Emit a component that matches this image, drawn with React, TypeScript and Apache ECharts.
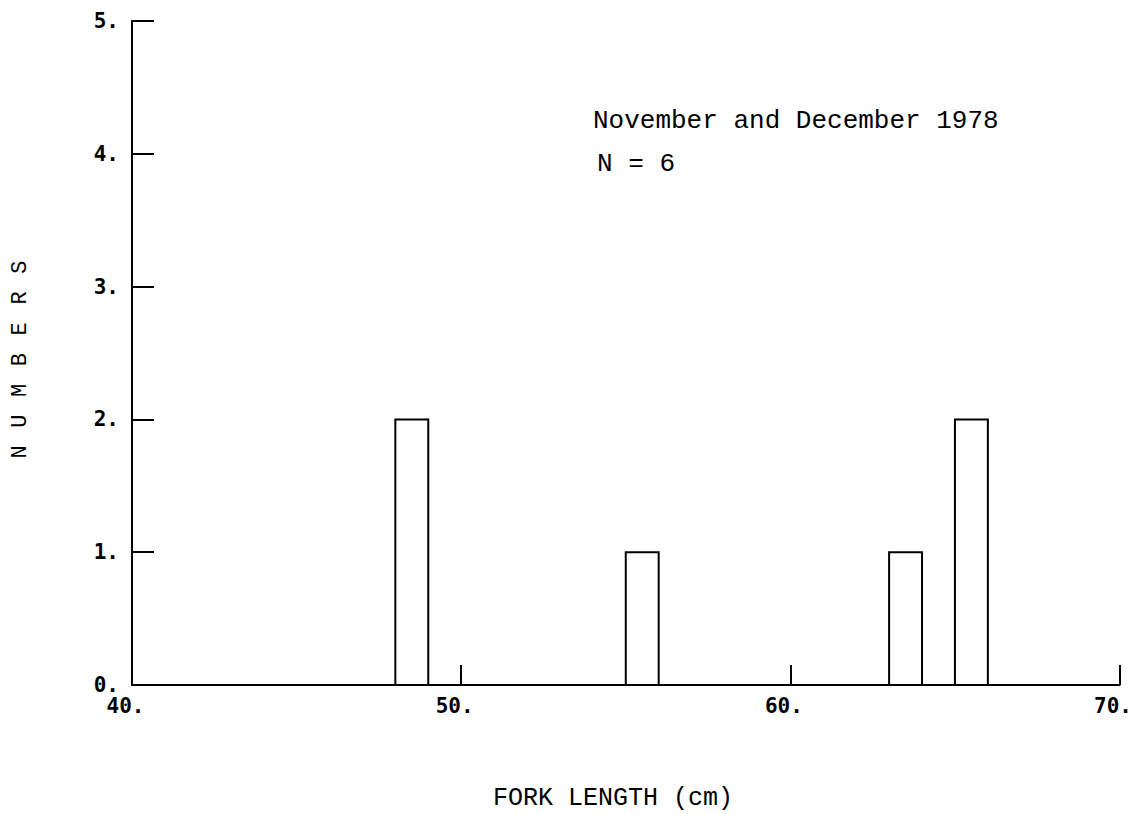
import React, { useEffect, useRef } from "react";
import * as echarts from "echarts";

// Histogram bins (fork length, cm) and counts
const binStarts = [48, 55, 63, 65];
const binEnds = [49, 56, 64, 66];
const counts = [2, 1, 1, 2];

const xTicks = [40, 50, 60, 70];
const yTicks = [0, 1, 2, 3, 4, 5];

const titleLine1 = "November and December 1978";
const titleLine2 = "N = 6";
const xTitle = "FORK LENGTH (cm)";
const yTitleLetters = ["N", "U", "M", "B", "E", "R", "S"];

const MONO = "'Liberation Mono', 'DejaVu Sans Mono', monospace";
const LABEL_FONT = "'DejaVu Sans Mono', monospace";

export default function App() {
  const ref = useRef<HTMLDivElement>(null);

  useEffect(() => {
    if (!ref.current) return;
    const chart = echarts.init(ref.current, undefined, { renderer: "svg" });
    const data = binStarts.map((s, i) => [s, binEnds[i], counts[i]]);

    const yTitleGraphics = yTitleLetters.map((ch, i) => ({
      type: "text",
      x: 20,
      y: 452 - i * 30.8,
      rotation: Math.PI / 2,
      style: {
        text: ch,
        font: `22px ${MONO}`,
        fill: "#000",
        align: "center",
        verticalAlign: "middle",
      },
    }));

    chart.setOption({
      animation: false,
      backgroundColor: "#fff",
      grid: { left: 132, right: 14, top: 21, bottom: 129, containLabel: false },
      xAxis: {
        type: "value",
        min: xTicks[0],
        max: xTicks[xTicks.length - 1],
        interval: 10,
        splitLine: { show: false },
        axisLine: { show: true, onZero: false, lineStyle: { color: "#000", width: 2 } },
        axisTick: { show: true, inside: true, length: 20, lineStyle: { color: "#000", width: 2 } },
        axisLabel: {
          formatter: (v: number) => `${v}.`,
          color: "#000",
          fontFamily: LABEL_FONT,
          fontWeight: "bold",
          fontSize: 21,
          margin: 10,
          padding: [0, 13, 0, 0],
          showMinLabel: true,
          showMaxLabel: true,
        },
      },
      yAxis: {
        type: "value",
        min: yTicks[0],
        max: yTicks[yTicks.length - 1],
        interval: 1,
        splitLine: { show: false },
        axisLine: { show: true, lineStyle: { color: "#000", width: 2 } },
        axisTick: { show: true, inside: true, length: 22, lineStyle: { color: "#000", width: 2 } },
        axisLabel: {
          formatter: (v: number) => `${v}.`,
          color: "#000",
          fontFamily: LABEL_FONT,
          fontWeight: "bold",
          fontSize: 21,
          margin: 13,
          verticalAlign: "middle",
          padding: [0, 0, 14, 0],
          showMinLabel: true,
          showMaxLabel: true,
        },
      },
      series: [
        {
          type: "custom",
          data,
          encode: { x: [0, 1], y: 2 },
          renderItem: (_params: any, api: any) => {
            const x0 = api.value(0);
            const x1 = api.value(1);
            const y = api.value(2);
            const p0 = api.coord([x0, y]);
            const p1 = api.coord([x1, 0]);
            return {
              type: "rect",
              shape: { x: p0[0], y: p0[1], width: p1[0] - p0[0], height: p1[1] - p0[1] },
              style: { fill: "#fff", stroke: "#000", lineWidth: 2 },
            };
          },
        },
      ],
      graphic: [
        {
          type: "text",
          left: 593,
          top: 108,
          style: { text: titleLine1, font: `26px ${MONO}`, fill: "#000" },
        },
        {
          type: "text",
          left: 597,
          top: 151,
          style: { text: titleLine2, font: `26px ${MONO}`, fill: "#000" },
        },
        {
          type: "text",
          x: 613,
          y: 798,
          style: {
            text: xTitle,
            font: `25px ${MONO}`,
            fill: "#000",
            align: "center",
            verticalAlign: "middle",
          },
        },
        ...yTitleGraphics,
      ],
    });
    return () => chart.dispose();
  }, []);

  return (
    <div
      ref={ref}
      style={{ position: "fixed", left: 0, top: 0, width: 1135, height: 814, background: "#fff" }}
    />
  );
}
